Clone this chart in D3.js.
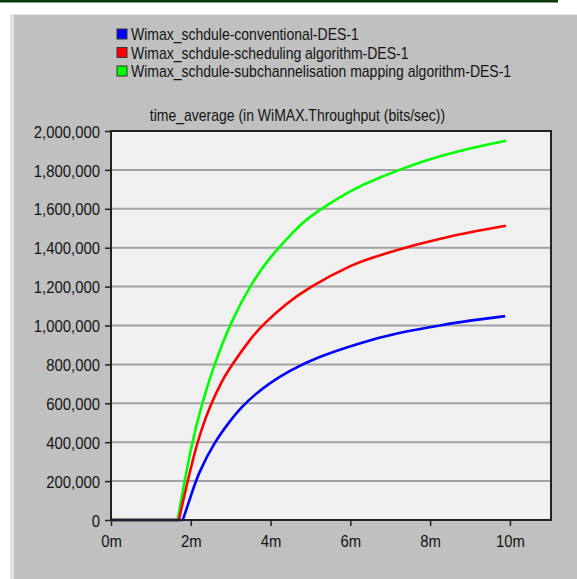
<!DOCTYPE html>
<html>
<head>
<meta charset="utf-8">
<script src="https://cdn.jsdelivr.net/npm/d3@7"></script>
<style>
  body { margin: 0; background: #fff; }
  text { font-family: "Liberation Sans", Arial, sans-serif; fill: #141414; }
</style>
</head>
<body>
<script>
// values (time in minutes, throughput in bits/sec)
const seriesNames = [
    'Wimax_schdule-conventional-DES-1',
    'Wimax_schdule-scheduling algorithm-DES-1',
    'Wimax_schdule-subchannelisation mapping algorithm-DES-1'
];
const seriesColors = ['#0000ff', '#ff0000', '#00ff00'];

const conventionalT = [0, 1.8, 2.02, 2.23, 2.6, 3.0, 3.27, 3.6, 4.0, 4.5, 5.23, 6.23, 7.2, 8.24, 9.0, 9.88];
const conventionalV = [0, 0, 135000, 250000, 395000, 512000, 578000, 642000, 705000, 768000, 838000, 908000, 960000, 1000000, 1025000, 1048000];

const schedulingT = [0, 1.7, 2.0, 2.25, 2.5, 2.78, 3.06, 3.5, 3.9, 4.4, 5.03, 6.0, 6.73, 7.6, 8.5, 9.2, 9.9];
const schedulingV = [0, 0, 265000, 450000, 590000, 712000, 805000, 930000, 1020000, 1110000, 1200000, 1305000, 1360000, 1412000, 1458000, 1487000, 1513000];

const subchannelT = [0, 1.67, 2.0, 2.29, 2.6, 3.03, 3.52, 4.0, 4.5, 5.0, 6.0, 6.73, 7.23, 8.0, 9.0, 9.9];
const subchannelV = [0, 0, 360000, 600000, 800000, 1020000, 1210000, 1350000, 1465000, 1560000, 1690000, 1760000, 1800000, 1855000, 1910000, 1950000];

const xTicks = [0, 2, 4, 6, 8, 10];
const yTicks = [0, 200000, 400000, 600000, 800000, 1000000, 1200000, 1400000, 1600000, 1800000, 2000000];
const chartTitle = 'time_average (in WiMAX.Throughput (bits/sec))';

const W = 577, H = 579;
const plot = { left: 111, right: 551, top: 131, bottom: 520 };
const SX = 0.875; // the original text is horizontally squeezed

const svg = d3.select('body').append('svg')
    .attr('width', W)
    .attr('height', H);

// page decoration: dark band on top, grey panel
svg.append('rect').attr('x', 0).attr('y', 0).attr('width', 558).attr('height', 2.5).attr('fill', '#0a3a0a');
svg.append('rect').attr('x', 10).attr('y', 14).attr('width', W - 10).attr('height', H - 14).attr('fill', '#c0c0c0');
svg.append('rect').attr('x', 10).attr('y', 14).attr('width', 4).attr('height', H - 14).attr('fill', '#e2e2e2');
svg.append('rect').attr('x', 10).attr('y', 14).attr('width', W - 10).attr('height', 1).attr('fill', '#e2e2e2');

const x = d3.scaleLinear().domain([0, 11.03]).range([plot.left, plot.right]);
const y = d3.scaleLinear().domain([0, 2000000]).range([plot.bottom, plot.top]);

svg.append('rect')
    .attr('x', plot.left).attr('y', plot.top)
    .attr('width', plot.right - plot.left).attr('height', plot.bottom - plot.top)
    .attr('fill', '#f0f0f0');

// horizontal grid
svg.append('g')
    .selectAll('line')
    .data(yTicks.slice(1, -1))
    .enter()
    .append('line')
    .attr('x1', plot.left).attr('x2', plot.right)
    .attr('y1', d => y(d)).attr('y2', d => y(d))
    .attr('stroke', '#a2a2a2')
    .attr('stroke-width', 2);

const squeeze = sel => sel.selectAll('text')
    .attr('transform', `scale(${SX},1)`)
    .attr('x', function() { return +d3.select(this).attr('x') / SX; });

const yAxis = svg.append('g')
    .attr('transform', `translate(${plot.left},0)`)
    .call(d3.axisLeft(y).tickValues(yTicks).tickFormat(d3.format(',')).tickSize(6).tickPadding(5));
yAxis.select('.domain').remove();
yAxis.selectAll('line').attr('stroke', '#222').attr('stroke-width', 1.5);
yAxis.selectAll('text').style('font-size', '17px').attr('fill', '#141414').attr('dy', '0.36em');
squeeze(yAxis);

const xAxis = svg.append('g')
    .attr('transform', `translate(0,${plot.bottom})`)
    .call(d3.axisBottom(x).tickValues(xTicks).tickFormat(d => `${d}m`).tickSize(6).tickPadding(9));
xAxis.select('.domain').remove();
xAxis.selectAll('line').attr('stroke', '#222').attr('stroke-width', 1.5);
xAxis.selectAll('text').style('font-size', '17px').attr('fill', '#141414');
squeeze(xAxis);

// series lines: flat part straight, rising part smooth
const series = [
    { t: subchannelT, v: subchannelV, color: seriesColors[2] },
    { t: schedulingT, v: schedulingV, color: seriesColors[1] },
    { t: conventionalT, v: conventionalV, color: seriesColors[0] }
];
const flat = d3.line().x(d => x(d[0])).y(d => y(d[1]));
const rise = d3.line().x(d => x(d[0])).y(d => y(d[1])).curve(d3.curveNatural);

const lines = svg.append('g');
series.forEach(({ t, v, color }) => {
    const pts = t.map((tt, i) => [tt, v[i]]);
    lines.append('path').attr('d', flat(pts.slice(0, 2)))
        .attr('fill', 'none').attr('stroke', color).attr('stroke-width', 2.6);
    lines.append('path').attr('d', rise(pts.slice(1)))
        .attr('fill', 'none').attr('stroke', color).attr('stroke-width', 2.6)
        .attr('stroke-linejoin', 'round');
});

// frame
svg.append('rect')
    .attr('x', plot.left).attr('y', plot.top)
    .attr('width', plot.right - plot.left).attr('height', plot.bottom - plot.top)
    .attr('fill', 'none').attr('stroke', '#222').attr('stroke-width', 2);

// title
svg.append('text')
    .attr('transform', `translate(297.5,121) scale(${SX},1)`)
    .attr('text-anchor', 'middle')
    .style('font-size', '16px')
    .text(chartTitle);

// legend
const legend = svg.append('g')
    .selectAll('g')
    .data(seriesNames)
    .enter()
    .append('g')
    .attr('transform', (d, i) => `translate(117,${40 + i * 18.5})`);

legend.append('rect')
    .attr('x', 0).attr('y', -11)
    .attr('width', 10).attr('height', 10)
    .attr('fill', (d, i) => seriesColors[i])
    .attr('stroke', '#333').attr('stroke-width', 1);

legend.append('text')
    .attr('transform', `translate(14,0) scale(${SX},1)`)
    .style('font-size', '16px')
    .text(d => d);
</script>
</body>
</html>
